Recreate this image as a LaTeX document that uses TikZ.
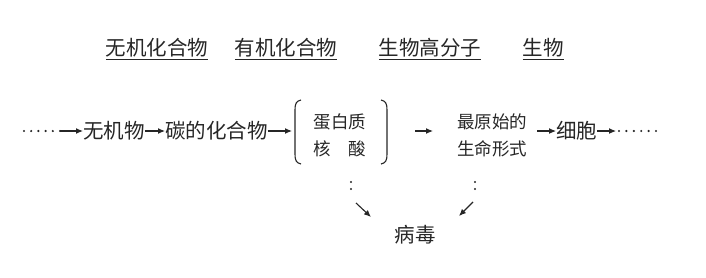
\documentclass[tikz,border=0pt]{standalone}
\usepackage{fontspec}
\setmainfont{Noto Sans CJK SC}
\usetikzlibrary{arrows.meta,calc}
\definecolor{ink}{HTML}{262626}
\begin{document}
\begin{tikzpicture}[x=1pt,y=1pt,
  every node/.style={inner sep=0pt,outer sep=0pt,text=ink},
  big/.style={font=\fontsize{20.5}{22}\selectfont},
  small/.style={font=\fontsize{17.5}{19}\selectfont},
  toplabel/.style={font=\fontsize{20.5}{22}\selectfont},
  arr/.style={draw=ink,line width=1.1pt,-{Latex[length=7pt,width=6pt]}},
  dotline/.style={draw=ink,line width=2.4pt,line cap=round,dash pattern=on 0pt off 6.6pt},
  uline/.style={draw=ink,line width=0.8pt}]
\useasboundingbox (0,0) rectangle (706,277);
% top labels
\node[toplabel] (t1) at (157,229) {无机化合物};
\node[toplabel] (t2) at (286,229) {有机化合物};
\node[toplabel] (t3) at (430,229) {生物高分子};
\node[toplabel] (t4) at (543,229) {生物};
\foreach \n in {t1,t2,t3,t4}{
  \draw[uline] ($(\n.west)+(0,-11)$) -- ($(\n.east)+(0,-11)$);
}
% main row
\coordinate (d1s) at (24,146);
\coordinate (d1e) at (60,146);
\draw[dotline,dash pattern=on 0pt off 7.2pt] (d1s) -- (d1e);
\node[big,anchor=west] (wuji) at (83,146) {无机物};
\node[big,anchor=west] (tan) at (165,146) {碳的化合物};
\draw[arr] (d1e) -- (wuji.west);
\draw[arr] (wuji.east) -- (tan.west);
% bracket group
\node[small] (dbz) at (340,155) {蛋白质};
\node[small] (hs) at (340,128) {核\hspace{1em}酸};
\coordinate (lbt) at (301,177);
\coordinate (lbb) at (301,113);
\coordinate (rbt) at (381,177);
\coordinate (rbb) at (381,113);
\draw[draw=ink,line width=1.1pt] (lbt) .. controls (296,176) and (295,173) .. (295,167) -- (295,123) .. controls (295,117) and (296,114) .. (lbb);
\draw[draw=ink,line width=1.1pt] (rbt) .. controls (386,176) and (387,173) .. (387,167) -- (387,123) .. controls (387,117) and (386,114) .. (rbb);
\coordinate (lbm) at (292,146);
\coordinate (rbm) at (415,146);
\draw[arr] (tan.east) -- (lbm);
\node[small] (zy) at (492,155) {最原始的};
\node[small] (sm) at (492,128) {生命形式};
\coordinate (a3e) at (433,146);
\draw[arr] (rbm) -- (a3e);
\coordinate (a4s) at (537,146);
\node[big,anchor=west] (xb) at (556,146) {细胞};
\draw[arr] (a4s) -- (xb.west);
\coordinate (d2s) at (616,146);
\coordinate (d2e) at (656,146);
\draw[arr] (xb.east) -- (d2s);
\coordinate (d2a) at (619,146);
\draw[dotline,dash pattern=on 0pt off 7.4pt] (d2a) -- (d2e);
% bottom
\node[big] (bd) at (415,42) {病毒};
\coordinate (v1t) at (351,95);
\coordinate (v1b) at (351,81);
\draw[dotline,dash pattern=on 0pt off 7pt] (v1t) -- (v1b);
\coordinate (a5s) at (356,74);
\coordinate (a5e) at (371,60);
\draw[arr] (a5s) -- (a5e);
\coordinate (v2t) at (475,95);
\coordinate (v2b) at (475,81);
\draw[dotline,dash pattern=on 0pt off 7pt] (v2t) -- (v2b);
\coordinate (a6s) at (473,75);
\coordinate (a6e) at (459,61);
\draw[arr] (a6s) -- (a6e);
\end{tikzpicture}
\end{document}
